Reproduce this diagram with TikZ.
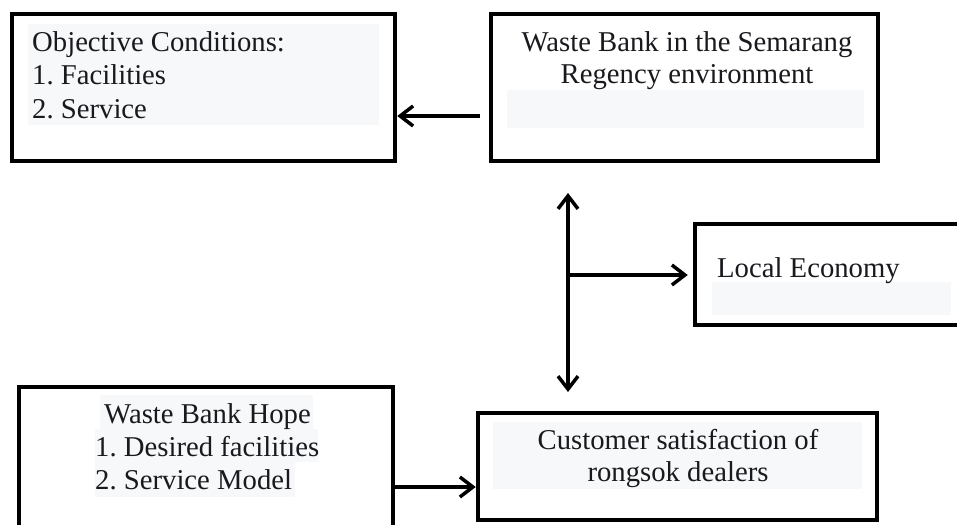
\documentclass[tikz,border=0pt]{standalone}
\usepackage{fontspec}
\setmainfont{Liberation Serif}
\usetikzlibrary{arrows.meta,calc}
\definecolor{shade}{RGB}{247,248,250}
\definecolor{ink}{RGB}{25,25,30}
\frenchspacing
\tikzset{
  boxnode/.style={draw=black, line width=4.5pt, inner sep=0pt, rectangle},
  shadebox/.style={fill=shade, draw=none},
  txt/.style={inner sep=0pt, text=ink, font=\fontsize{28.7}{33}\selectfont},
  arr/.style={line width=3.5pt, -{Straight Barb[length=13pt,width=20pt,line width=3.5pt]}},
  arrboth/.style={line width=3.5pt, {Straight Barb[length=13pt,width=20pt,line width=3.5pt]}-{Straight Barb[length=13pt,width=20pt,line width=3.5pt]}},
}
\begin{document}
\begin{tikzpicture}[x=1pt,y=-1pt]
\clip (0,0) rectangle (957,524);
\fill[white] (0,0) rectangle (957,524);
% shaded text backgrounds
\fill[shadebox] (28,24) rectangle (379,125);
\fill[shadebox] (507,90) rectangle (864,128);
\fill[shadebox] (712,282) rectangle (951,315);
\fill[shadebox] (100,395) rectangle (313,429);
\fill[shadebox] (95,429) rectangle (318,462);
\fill[shadebox] (95,462) rectangle (295,497);
\fill[shadebox] (493,422) rectangle (862,489);
% boxes
\node[boxnode, minimum width=383pt, minimum height=147pt] (b1) at (203.5,87.5) {};
\node[boxnode, minimum width=387pt, minimum height=147pt] (b2) at (684.5,87.5) {};
\node[boxnode, minimum width=280pt, minimum height=101pt] (b3) at (835,274.5) {};
\node[boxnode, minimum width=374pt, minimum height=153pt] (b4) at (206,463.5) {};
\node[boxnode, minimum width=399pt, minimum height=107pt] (b5) at (677.5,466.5) {};
% texts
\node[txt, anchor=base west] (t1a) at (32,52) {Objective Conditions:};
\node[txt, anchor=base west] (t1b) at (32,85) {1. Facilities};
\node[txt, anchor=base west] (t1c) at (32,118) {2. Service};
\node[txt, anchor=base] (t2a) at (687,52) {Waste Bank in the Semarang};
\node[txt, anchor=base] (t2b) at (687,84) {Regency environment};
\node[txt, anchor=base west] (t3) at (717,277) {Local Economy};
\node[txt, anchor=base] (t4a) at (207.5,423) {Waste Bank Hope};
\node[txt, anchor=base west] (t4b) at (95,456) {1. Desired facilities};
\node[txt, anchor=base west] (t4c) at (95,489) {2. Service Model};
\node[txt, anchor=base] (t5a) at (678,449) {Customer satisfaction of};
\node[txt, anchor=base] (t5b) at (678,481) {rongsok dealers};
% connectors
\coordinate (a1) at (480,116);
\draw[arr] (a1) -- (a1 -| b1.east);
\coordinate (vtop) at (568,193);
\coordinate (vbot) at (568,392);
\draw[arrboth] (vtop) -- (vbot);
\coordinate (hj) at (568,275);
\draw[arr] (hj) -- ([xshift=-5pt]hj -| b3.west);
\coordinate (a4) at (300,487);
\draw[arr] (a4 -| b4.east) -- (a4 -| b5.west);
\end{tikzpicture}
\end{document}
